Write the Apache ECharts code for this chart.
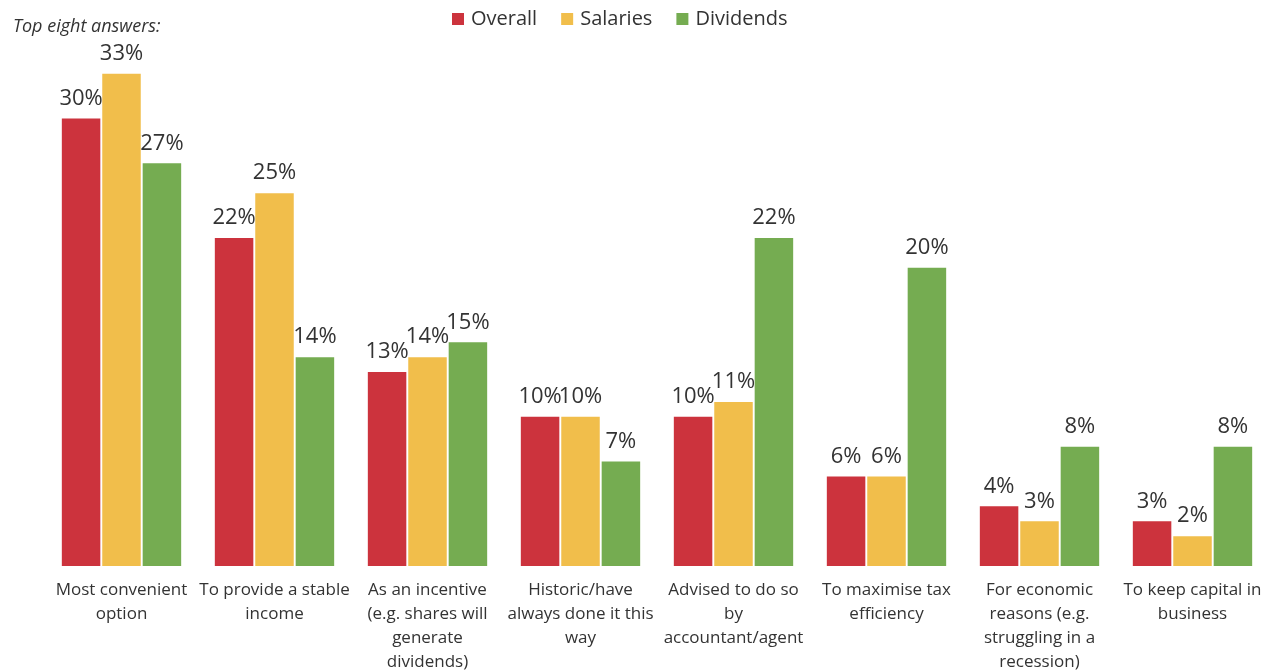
<!DOCTYPE html>
<html>
<head>
<meta charset="utf-8">
<script src="https://cdn.jsdelivr.net/npm/echarts@6/dist/echarts.min.js"></script>
<style>
  html, body { margin: 0; padding: 0; background: #fff; }
  #chart { width: 1270px; height: 671px; }
</style>
</head>
<body>
<div id="chart"></div>
<script>
// reasons, wrapped the way the original wraps them
const categories = [
  'Most convenient\noption',
  'To provide a stable\nincome',
  'As an incentive\n(e.g. shares will\ngenerate\ndividends)',
  'Historic/have\nalways done it this\nway',
  'Advised to do so\nby\naccountant/agent',
  'To maximise tax\nefficiency',
  'For economic\nreasons (e.g.\nstruggling in a\nrecession)',
  'To keep capital in\nbusiness'
];
const overall = [30, 22, 13, 10, 10, 6, 4, 3];
const salaries = [33, 25, 14, 10, 11, 6, 3, 2];
const dividends = [27, 14, 15, 7, 22, 20, 8, 8];

const colors = ['#CC333D', '#F1BE4B', '#75AC51'];
const font = "'Open Sans', 'Noto Sans', sans-serif";

const chart = echarts.init(document.getElementById('chart'));

function barSeries(name, data, color) {
  return {
    name: name,
    type: 'bar',
    data: data,
    barGap: '5%',
    barCategoryGap: '22%',
    itemStyle: { color: color },
    label: {
      show: true,
      position: 'top',
      distance: 9,
      formatter: '{c}%',
      color: '#333',
      fontFamily: font,
      fontSize: 22
    }
  };
}

chart.setOption({
  animation: false,
  textStyle: { fontFamily: font },
  title: {
    text: 'Top eight answers:',
    left: 8,
    top: 13,
    textStyle: { fontSize: 18, fontStyle: 'italic', fontWeight: 'normal', color: '#333', fontFamily: font }
  },
  legend: {
    top: 4,
    left: 447,
    icon: 'rect',
    itemWidth: 12,
    itemHeight: 12,
    itemGap: 24,
    textStyle: { fontSize: 20, color: '#333', fontFamily: font, padding: [0, 0, 0, 2] }
  },
  grid: { left: 45, right: 1, top: 44, bottom: 105, outerBoundsMode: 'none' },
  xAxis: {
    type: 'category',
    data: categories,
    axisLine: { show: false },
    axisTick: { show: false },
    axisLabel: {
      interval: 0,
      margin: 12,
      color: '#333',
      fontSize: 17,
      lineHeight: 24,
      fontFamily: font
    }
  },
  yAxis: {
    type: 'value',
    min: 0,
    max: 35,
    show: false
  },
  series: [
    barSeries('Overall', overall, colors[0]),
    barSeries('Salaries', salaries, colors[1]),
    barSeries('Dividends', dividends, colors[2])
  ]
});
</script>
</body>
</html>
